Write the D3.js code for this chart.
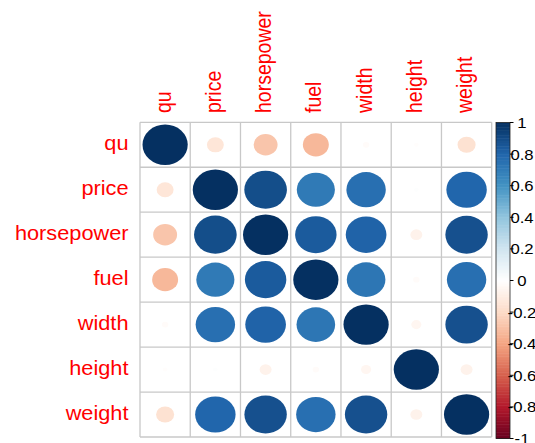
<!DOCTYPE html>
<html>
<head>
<meta charset="utf-8">
<script src="https://cdn.jsdelivr.net/npm/d3@7"></script>
<style>
  html, body { margin: 0; padding: 0; background: #fff; }
  svg { display: block; }
  text { font-family: "Liberation Sans", Arial, sans-serif; }
</style>
</head>
<body>
<svg id="chart" width="535" height="443"></svg>
<script>
// Variables in the correlation matrix (row and column order)
const variables = ["qu", "price", "horsepower", "fuel", "width", "height", "weight"];

// Correlation matrix, one row per variable
const corQu         = [ 1.00, -0.14, -0.28, -0.33, -0.02, -0.01, -0.16];
const corPrice      = [-0.14,  1.00,  0.89,  0.71,  0.76,  0.01,  0.80];
const corHorsepower = [-0.28,  0.89,  1.00,  0.84,  0.81, -0.07,  0.88];
const corFuel       = [-0.33,  0.71,  0.84,  1.00,  0.73, -0.02,  0.76];
const corWidth      = [-0.02,  0.76,  0.81,  0.73,  1.00, -0.05,  0.88];
const corHeight     = [-0.01,  0.01, -0.07, -0.02, -0.05,  1.00, -0.07];
const corWeight     = [-0.16,  0.80,  0.88,  0.76,  0.88, -0.07,  1.00];
const corRows = [corQu, corPrice, corHorsepower, corFuel, corWidth, corHeight, corWeight];

// Colour legend ticks
const legendTicks = [1, 0.8, 0.6, 0.4, 0.2, 0, -0.2, -0.4, -0.6, -0.8, -1];
const legendTickLabels = ["1", "0.8", "0.6", "0.4", "0.2", "0", "-0.2", "-0.4", "-0.6", "-0.8", "-1"];

// Diverging red-white-blue palette
const paletteStops = ["#67001F", "#B2182B", "#D6604D", "#F4A582", "#FDDBC7", "#FFFFFF",
                      "#D1E5F0", "#92C5DE", "#4393C3", "#2166AC", "#053061"];

const svg = d3.select("#chart");
const stretch = 1.115; // horizontal stretch of glyphs

const color = d3.scaleLinear()
  .domain(d3.range(11).map(i => -1 + i * 0.2))
  .range(paletteStops)
  .interpolate(d3.interpolateRgb)
  .clamp(true);

const x = d3.scaleBand().domain(variables).range([140, 491.7]).padding(0);
const y = d3.scaleBand().domain(variables).range([122.3, 437]).padding(0);

// Cells: data flattened from the matrix rows
const cells = [];
corRows.forEach((row, i) => row.forEach((v, j) => cells.push({ r: variables[i], c: variables[j], v })));

// Grid
const grid = svg.append("g").attr("stroke", "#C8C8C8").attr("stroke-width", 1.3);
const xEdges = variables.map(v => x(v)).concat([x.range()[1]]);
const yEdges = variables.map(v => y(v)).concat([y.range()[1]]);
xEdges.forEach(xe => grid.append("line").attr("x1", xe).attr("x2", xe).attr("y1", y.range()[0]).attr("y2", y.range()[1]));
yEdges.forEach(ye => grid.append("line").attr("y1", ye).attr("y2", ye).attr("x1", x.range()[0]).attr("x2", x.range()[1]));

// Circles: area proportional to |r|
svg.append("g").selectAll("ellipse").data(cells).join("ellipse")
  .attr("cx", d => x(d.c) + x.bandwidth() / 2)
  .attr("cy", d => y(d.r) + y.bandwidth() / 2)
  .attr("rx", d => 0.45 * x.bandwidth() * Math.sqrt(Math.abs(d.v)))
  .attr("ry", d => 0.45 * y.bandwidth() * Math.sqrt(Math.abs(d.v)))
  .attr("fill", d => color(d.v));

// Row labels
svg.append("g").selectAll("text").data(variables).join("text")
  .attr("transform", d => `translate(128.5,${y(d) + y.bandwidth() / 2 + 5}) scale(${stretch},1)`)
  .attr("text-anchor", "end")
  .attr("font-size", 19.5)
  .attr("fill", "#FF0000")
  .text(d => d);

// Column labels
svg.append("g").selectAll("text").data(variables).join("text")
  .attr("transform", d => `translate(${x(d) + x.bandwidth() / 2 + 5.5},113) scale(${stretch},1) rotate(-90)`)
  .attr("text-anchor", "start")
  .attr("font-size", 19.5)
  .attr("fill", "#FF0000")
  .text(d => d);

// Colour legend
const ly = d3.scaleLinear().domain([-1, 1]).range([438.5, 122.5]);
const legendX = 496, legendW = 14;
const nSteps = 200;
const legend = svg.append("g");
legend.selectAll("rect").data(d3.range(nSteps)).join("rect")
  .attr("x", legendX)
  .attr("width", legendW)
  .attr("y", i => ly(-1 + (i + 1) * 2 / nSteps))
  .attr("height", i => ly(-1 + i * 2 / nSteps) - ly(-1 + (i + 1) * 2 / nSteps) + 0.5)
  .attr("fill", i => color(-1 + (i + 0.5) * 2 / nSteps));
legend.append("rect")
  .attr("x", legendX).attr("y", ly(1)).attr("width", legendW).attr("height", ly(-1) - ly(1))
  .attr("fill", "none").attr("stroke", "#222").attr("stroke-width", 0.8);
legend.selectAll("line.tick").data(legendTicks).join("line")
  .attr("class", "tick")
  .attr("x1", legendX + legendW).attr("x2", legendX + legendW + 3.5)
  .attr("y1", d => ly(d)).attr("y2", d => ly(d))
  .attr("stroke", "#000").attr("stroke-width", 1);
legend.selectAll("text").data(legendTicks).join("text")
  .attr("transform", d => `translate(522,${ly(d) + 5.4}) scale(${stretch},1)`)
  .attr("text-anchor", "middle")
  .attr("font-size", 15)
  .attr("fill", "#000")
  .text((d, i) => legendTickLabels[i]);
</script>
</body>
</html>
